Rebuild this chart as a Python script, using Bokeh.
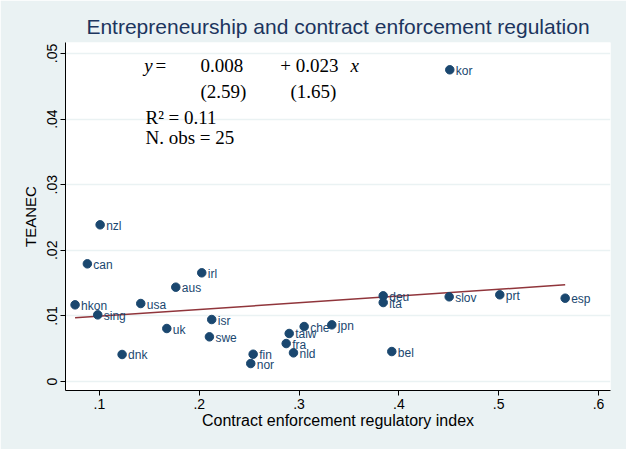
import numpy as np
from bokeh.plotting import figure
from bokeh.models import ColumnDataSource, Range1d, FixedTicker, Label
from bokeh.embed import file_html
from bokeh.resources import INLINE

# ---- data ----
countries = ["nzl", "can", "irl", "aus", "hkon", "usa", "sing", "isr", "uk", "swe", "dnk",
             "deu", "ita", "che", "jpn", "taiw", "fra", "nld", "fin", "nor", "bel",
             "kor", "slov", "prt", "esp"]
contract_index = [0.1007, 0.0879, 0.2025, 0.1765, 0.0756, 0.1414, 0.0983, 0.2125, 0.1675, 0.2102, 0.1227,
                  0.3843, 0.3843, 0.3051, 0.3328, 0.2901, 0.2871, 0.2944, 0.2540, 0.2516, 0.3929,
                  0.4510, 0.4504, 0.5011, 0.5666]
teanec = [0.02389, 0.01794, 0.01657, 0.01438, 0.01169, 0.01189, 0.01016, 0.00945, 0.00808, 0.00681, 0.00412,
          0.01306, 0.01204, 0.00838, 0.00864, 0.00732, 0.00579, 0.00437, 0.00416, 0.00274, 0.00457,
          0.04752, 0.01291, 0.01322, 0.01270]

x_ticks = [0.1, 0.2, 0.3, 0.4, 0.5, 0.6]
x_tick_labels = [".1", ".2", ".3", ".4", ".5", ".6"]
y_ticks = [0.0, 0.01, 0.02, 0.03, 0.04, 0.05]
y_tick_labels = ["0", ".01", ".02", ".03", ".04", ".05"]

title_text = "Entrepreneurship and contract enforcement regulation"
x_title = "Contract enforcement regulatory index"
y_title = "TEANEC"

# ---- styles ----
NAVY = "#1a476f"
MAROON = "#90353b"
BG = "#eaf2f3"
SANS = "Liberation Sans"
SERIF = "Liberation Serif"

p = figure(width=626, height=449, output_backend="svg", toolbar_location=None,
           x_range=Range1d(0.066, 0.612), y_range=Range1d(-0.00137, 0.05168),
           min_border_left=65, min_border_right=16, min_border_top=42, min_border_bottom=59)

p.background_fill_color = "white"
p.border_fill_color = BG
p.outline_line_color = None

p.title.text = title_text
p.title.align = "center"
p.title.text_font = SANS
p.title.text_font_size = "21px"
p.title.text_font_style = "normal"
p.title.text_color = "#1c355e"

# axes
for ax in (p.xaxis[0], p.yaxis[0]):
    ax.axis_line_color = "black"
    ax.axis_line_width = 1
    ax.major_tick_line_color = "black"
    ax.major_tick_out = 5
    ax.major_tick_in = 0
    ax.minor_tick_line_color = None
    ax.major_label_text_font = SANS
    ax.major_label_text_font_size = "14px"
    ax.major_label_text_color = "black"
    ax.axis_label_text_font = SANS
    ax.axis_label_text_font_style = "normal"
    ax.axis_label_text_color = "black"

p.xaxis.ticker = FixedTicker(ticks=x_ticks)
p.xaxis.major_label_overrides = dict(zip(x_ticks, x_tick_labels))
p.xaxis.axis_label = x_title
p.xaxis.axis_label_text_font_size = "16px"
p.xaxis.axis_label_standoff = 0
p.xaxis.major_label_standoff = 3

p.yaxis.ticker = FixedTicker(ticks=y_ticks)
p.yaxis.major_label_overrides = dict(zip(y_ticks, y_tick_labels))
p.yaxis.major_label_orientation = "vertical"
p.yaxis.axis_label = y_title
p.yaxis.axis_label_text_font_size = "15px"
p.yaxis.axis_label_standoff = 6
p.yaxis.major_label_standoff = 3

p.xgrid.grid_line_color = None
p.ygrid.ticker = FixedTicker(ticks=y_ticks)
p.ygrid.grid_line_color = BG
p.ygrid.grid_line_width = 1.5

# fit line (OLS from the data)
slope, intercept = np.polyfit(contract_index, teanec, 1)
xs_fit = [min(contract_index), max(contract_index)]
ys_fit = [intercept + slope * v for v in xs_fit]
p.line(xs_fit, ys_fit, line_color=MAROON, line_width=1.5)

src = ColumnDataSource(dict(x=contract_index, y=teanec, name=countries))
p.scatter("x", "y", source=src, size=8.5, fill_color=NAVY, line_color=NAVY)
p.text("x", "y", text="name", source=src, x_offset=6, y_offset=1,
       text_font_size="12px", text_color=NAVY, text_baseline="middle", text_align="left",
       text_font={"value": SANS})

# regression annotation
def lab(x, y, t, style="normal"):
    p.add_layout(Label(x=x, y=y, text=t, text_font=SERIF, text_font_size="19px",
                       text_font_style=style, text_color="black",
                       text_baseline="middle", text_align="left"))

row1, row2, row3, row4 = 0.04817, 0.04420, 0.04024, 0.03720
lab(0.1448, row1, "y", "italic")
lab(0.1561, row1, "=")
lab(0.2012, row1, "0.008")
lab(0.2811, row1, "+ 0.023")
lab(0.3515, row1, "x", "italic")
lab(0.2012, row2, "(2.59)")
lab(0.2914, row2, "(1.65)")
lab(0.1461, row3, "R\u00b2 = 0.11")
lab(0.1461, row4, "N. obs = 25")

open("out.html", "w").write(file_html(p, INLINE))
